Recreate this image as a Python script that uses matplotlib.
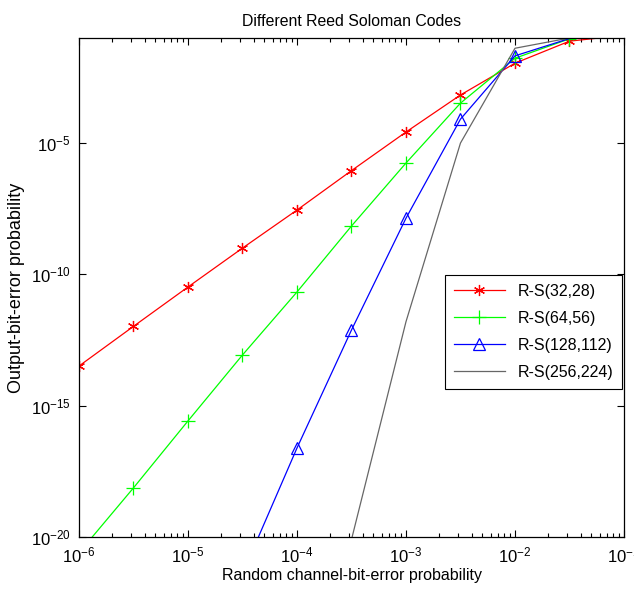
import matplotlib
matplotlib.use('Agg')
import matplotlib.pyplot as plt
from matplotlib.ticker import LogLocator, NullLocator, LogFormatterSciNotation

plt.rcParams['font.family'] = ['Liberation Sans', 'DejaVu Sans']
plt.rcParams['mathtext.default'] = 'regular'
plt.rcParams['axes.unicode_minus'] = False

# channel bit-error probability (x) for every curve
p_ch = [1e-6, 3.16e-6, 1e-5, 3.16e-5, 1e-4, 3.16e-4, 1e-3, 3.16e-3, 1e-2, 3.16e-2, 1e-1]

# output bit-error probability, as log10 values
log_rs32 = [-13.49, -11.98, -10.48, -9.0, -7.55, -6.05, -4.58, -3.17, -1.96, -1.12, -0.9]
log_rs64 = [-20.6, -18.13, -15.58, -13.07, -10.67, -8.16, -5.76, -3.48, -1.77, -1.03, -0.85]
log_rs128 = [-30.0, -25.5, -21.4, -16.61, -12.12, -7.86, -4.09, -1.68, -1.02, -0.85]
log_rs256 = [-35.0, -28.0, -20.1, -11.8, -5.0, -1.39, -1.0, -0.85]

labels = ['R-S(32,28)', 'R-S(64,56)', 'R-S(128,112)', 'R-S(256,224)']


def to_lin(vals):
    return [10.0 ** v for v in vals]


fig = plt.figure(figsize=(6.34, 5.97), dpi=100)
ax = fig.add_axes([79 / 634, 60 / 597, 545 / 634, 499 / 597])

# markers only where the reference shows them (not on the clipped end points)
ax.plot(p_ch, to_lin(log_rs32), color='red', lw=0.9, marker=(6, 2, 0),
        ms=8, mew=0.9, markevery=list(range(10)), label=labels[0])
ax.plot(p_ch, to_lin(log_rs64), color=(0, 1, 0), lw=0.9, marker='+',
        ms=10, mew=0.9, markevery=list(range(10)), label=labels[1])
ax.plot(p_ch[1:], to_lin(log_rs128), color='blue', lw=0.9, marker='^',
        ms=9, mfc='none', mew=0.9, markevery=list(range(8)), label=labels[2])
ax.plot(p_ch[3:], to_lin(log_rs256), color=(0.4, 0.4, 0.4), lw=0.9,
        label=labels[3])

ax.set_xscale('log')
ax.set_yscale('log')
ax.set_xlim(1e-6, 1e-1)
ax.set_ylim(1e-20, 1e-1)

ax.set_yticks([1e-20, 1e-15, 1e-10, 1e-5])
ax.yaxis.set_major_formatter(LogFormatterSciNotation())
ax.yaxis.set_minor_locator(NullLocator())
ax.xaxis.set_major_locator(LogLocator(base=10, numticks=10))
ax.xaxis.set_minor_locator(LogLocator(base=10, subs=range(2, 10), numticks=20))

ax.tick_params(which='both', direction='in', top=True, right=True,
               labelsize=12, width=0.8)
ax.tick_params(which='major', length=5, pad=6)
ax.tick_params(which='minor', length=3)
for s in ax.spines.values():
    s.set_linewidth(0.9)

ax.set_title('Different Reed Soloman Codes', fontsize=11.4, pad=9)
ax.set_xlabel('Random channel-bit-error probability', fontsize=11.5, labelpad=2)
ax.set_ylabel('Output-bit-error probability', fontsize=13, labelpad=4)

leg = ax.legend(loc='upper right', bbox_to_anchor=(0.997, 0.525),
                fontsize=11.5, handlelength=3.2, borderaxespad=0,
                fancybox=False, framealpha=1, edgecolor='black',
                labelspacing=0.75, borderpad=0.55)
leg.get_frame().set_linewidth(0.8)

fig.savefig('out.png', dpi=100)
